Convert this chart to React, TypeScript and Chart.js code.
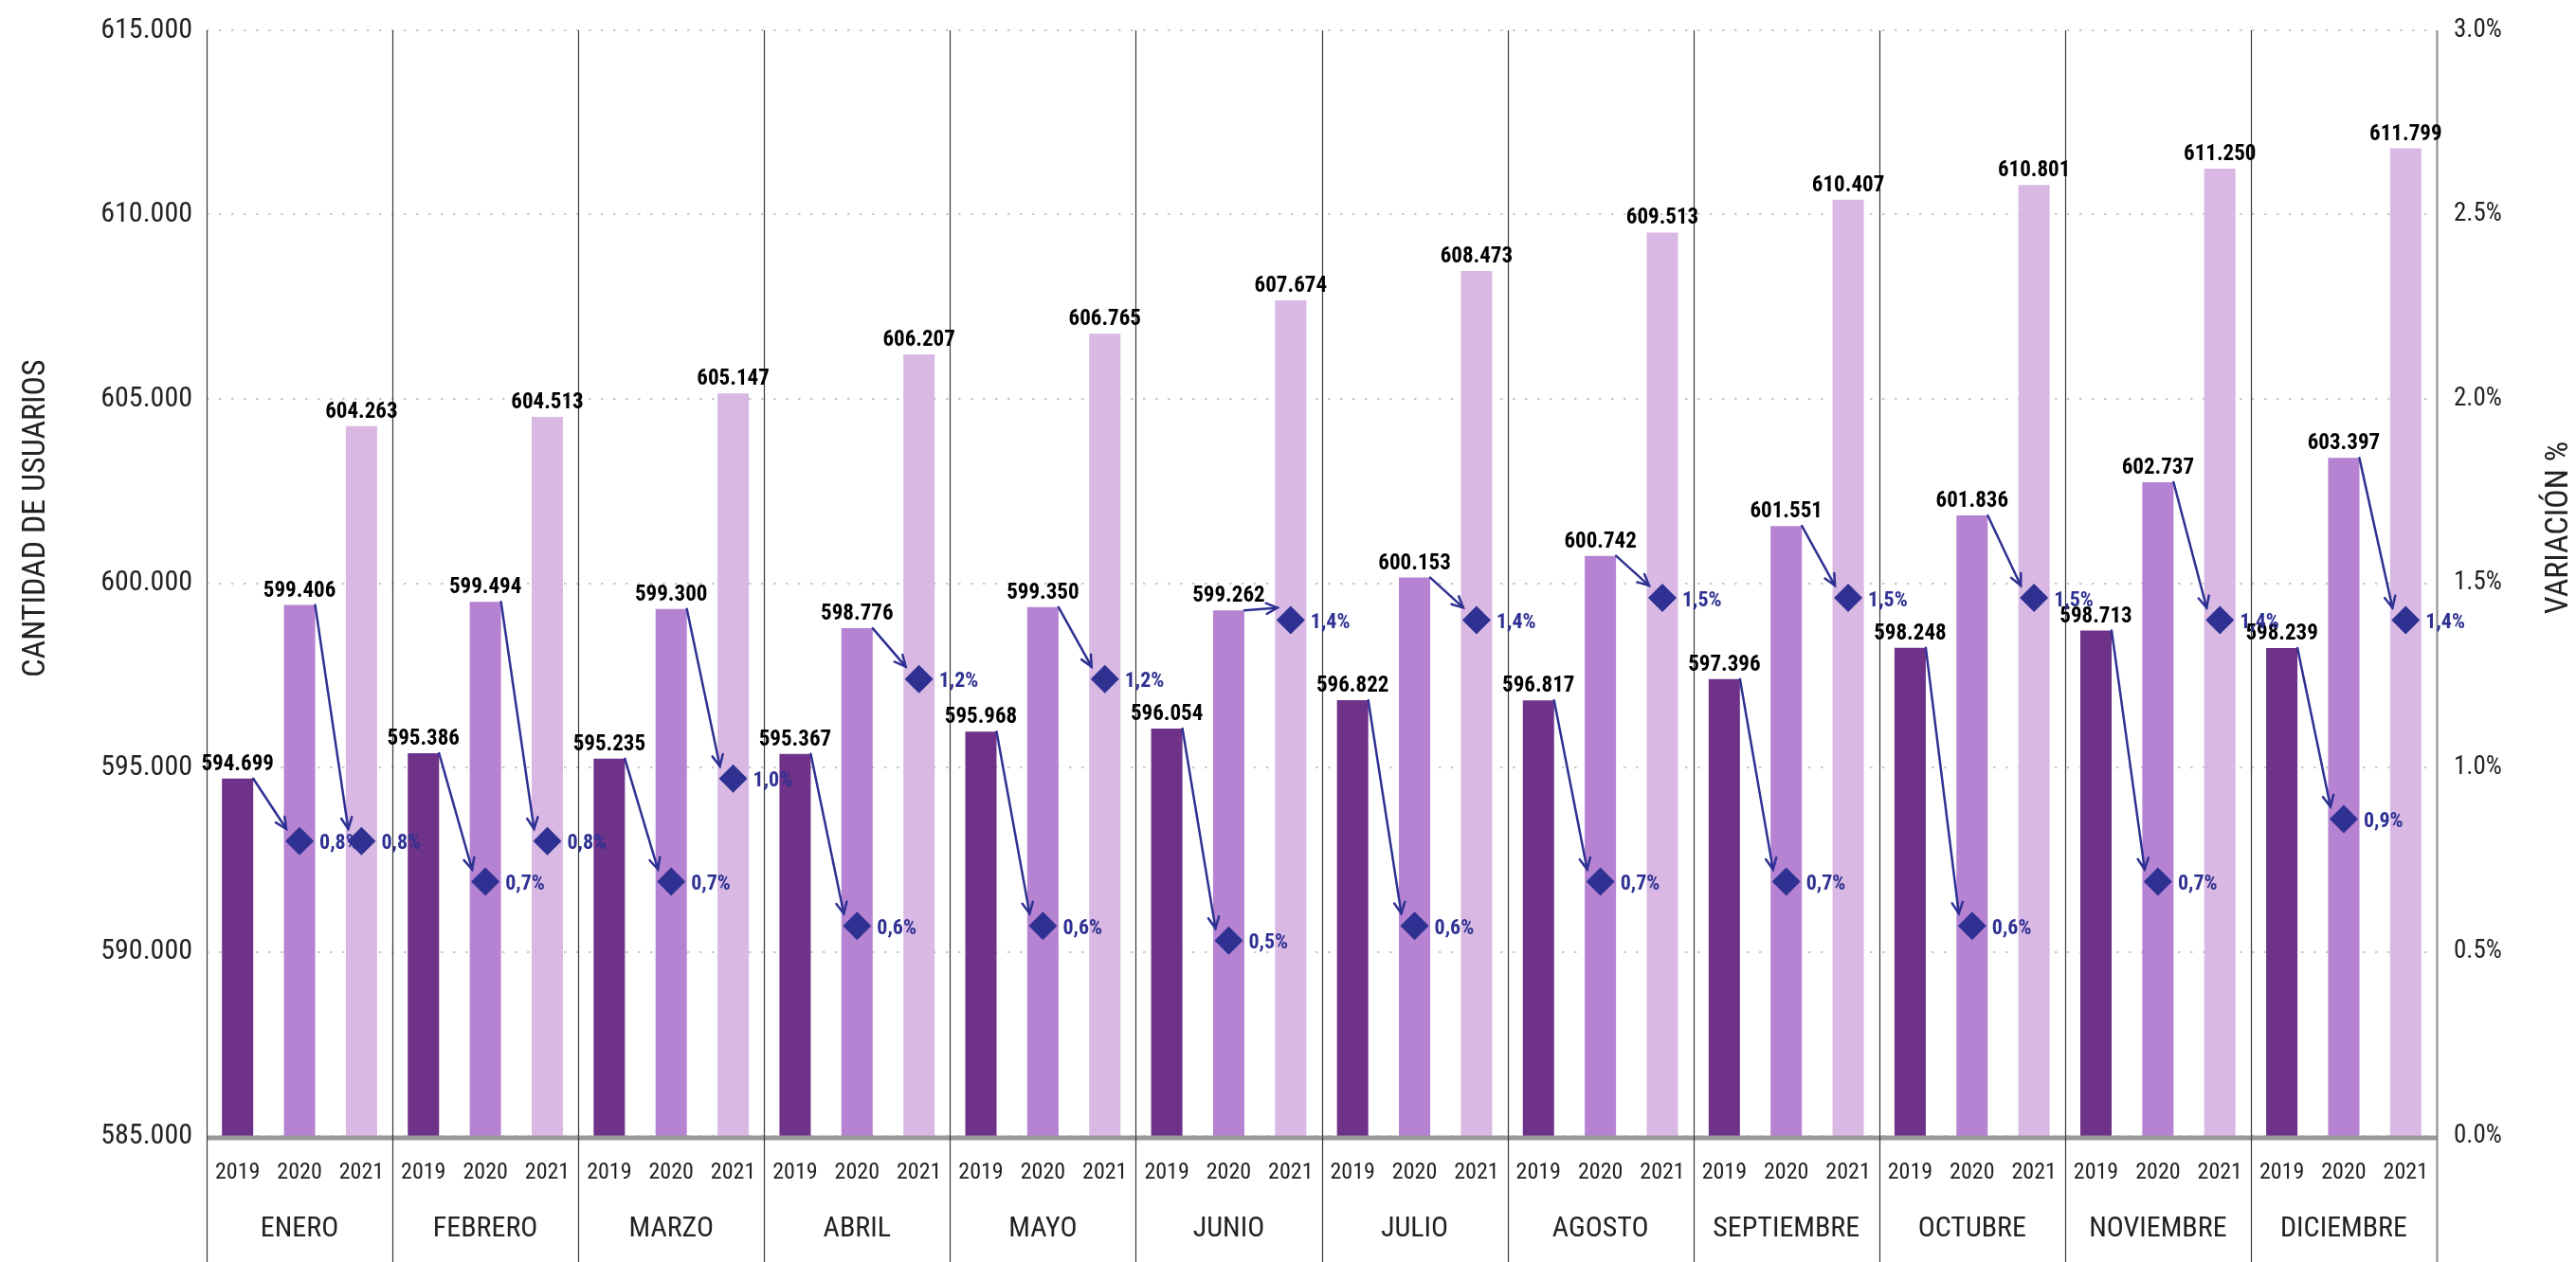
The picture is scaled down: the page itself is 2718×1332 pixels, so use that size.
import React, { useEffect, useRef } from "react";
import { Chart, registerables } from "chart.js";

Chart.register(...registerables);

const MONTHS = ["ENERO", "FEBRERO", "MARZO", "ABRIL", "MAYO", "JUNIO", "JULIO", "AGOSTO", "SEPTIEMBRE", "OCTUBRE", "NOVIEMBRE", "DICIEMBRE"];
const YEARS = ["2019", "2020", "2021"];
const USERS_2019 = [594699, 595386, 595235, 595367, 595968, 596054, 596822, 596817, 597396, 598248, 598713, 598239];
const USERS_2020 = [599406, 599494, 599300, 598776, 599350, 599262, 600153, 600742, 601551, 601836, 602737, 603397];
const USERS_2021 = [604263, 604513, 605147, 606207, 606765, 607674, 608473, 609513, 610407, 610801, 611250, 611799];
const VAR_2020 = [0.80, 0.69, 0.69, 0.57, 0.57, 0.53, 0.57, 0.69, 0.69, 0.57, 0.69, 0.86];
const VAR_2021 = [0.80, 0.80, 0.97, 1.24, 1.24, 1.40, 1.40, 1.46, 1.46, 1.46, 1.40, 1.40];
const YEAR_COLORS = ["#6E3289", "#B583D2", "#D9B9E3"];
const NAVY = "#2E3192";
const FF = "'Roboto Condensed', Roboto, sans-serif";

function fmtThousands(v: number): string {
  return String(Math.round(v)).replace(/\B(?=(\d{3})+(?!\d))/g, ".");
}

function setFont(ctx: CanvasRenderingContext2D, size: number, weight: string) {
  ctx.font = `${weight} ${size}px ${FF}`;
  try {
    (ctx as any).fontStretch = "condensed";
  } catch (e) {}
}

const labels36: string[] = [];
const values36: number[] = [];
const colors36: string[] = [];
const var36: (number | null)[] = [];
const series = [USERS_2019, USERS_2020, USERS_2021];
MONTHS.forEach((m, mi) => {
  YEARS.forEach((y, yi) => {
    labels36.push(m + " " + y);
    values36.push(series[yi][mi]);
    colors36.push(YEAR_COLORS[yi]);
    var36.push(yi === 0 ? null : yi === 1 ? VAR_2020[mi] : VAR_2021[mi]);
  });
});

const overlayPlugin = {
  id: "overlay",
  afterDatasetsDraw(chart: any) {
    const ctx: CanvasRenderingContext2D = chart.ctx;
    const barMeta = chart.getDatasetMeta(0);
    const lineMeta = chart.getDatasetMeta(1);
    const area = chart.chartArea;
    const xs = chart.scales.x;
    const ys = chart.scales.y;
    const y1 = chart.scales.y1;
    ctx.save();

    ctx.strokeStyle = "#999999";
    ctx.lineWidth = 5;
    ctx.beginPath();
    ctx.moveTo(area.left, area.bottom + 2);
    ctx.lineTo(area.right, area.bottom + 2);
    ctx.stroke();

    for (let k = 0; k <= MONTHS.length; k++) {
      const x = Math.round(xs.getPixelForValue(k * 3 - 0.5)) + 0.5;
      ctx.strokeStyle = k === MONTHS.length ? "#888888" : "#3a3a3a";
      ctx.lineWidth = k === MONTHS.length ? 2 : 1.2;
      ctx.beginPath();
      ctx.moveTo(x, area.top);
      ctx.lineTo(x, chart.height);
      ctx.stroke();
    }

    ctx.strokeStyle = NAVY;
    ctx.lineWidth = 2.5;
    ctx.lineCap = "round";
    for (let i = 0; i < var36.length; i++) {
      if (var36[i] === null) continue;
      const bar = barMeta.data[i - 1];
      const pt = lineMeta.data[i];
      const sx = bar.x + bar.width / 2;
      const sy = bar.y;
      const ex = pt.x - 14;
      const ey = pt.y - 13;
      ctx.beginPath();
      ctx.moveTo(sx, sy);
      ctx.lineTo(ex, ey);
      ctx.stroke();
      const ang = Math.atan2(ey - sy, ex - sx);
      const L = 13;
      ctx.beginPath();
      ctx.moveTo(ex - L * Math.cos(ang - 0.45), ey - L * Math.sin(ang - 0.45));
      ctx.lineTo(ex, ey);
      ctx.lineTo(ex - L * Math.cos(ang + 0.45), ey - L * Math.sin(ang + 0.45));
      ctx.stroke();
    }

    ctx.fillStyle = "#000000";
    setFont(ctx, 23, "bold");
    ctx.textAlign = "center";
    ctx.textBaseline = "alphabetic";
    barMeta.data.forEach((bar: any, i: number) => {
      ctx.fillText(fmtThousands(values36[i]), bar.x, bar.y - 9);
    });

    ctx.fillStyle = NAVY;
    setFont(ctx, 22, "bold");
    ctx.textAlign = "left";
    ctx.textBaseline = "middle";
    lineMeta.data.forEach((pt: any, i: number) => {
      const v = var36[i];
      if (v === null) return;
      ctx.fillText(v.toFixed(1).replace(".", ",") + "%", pt.x + 21, pt.y + 3);
    });

    ctx.fillStyle = "#222222";
    setFont(ctx, 30, "normal");
    ctx.textAlign = "right";
    ctx.textBaseline = "middle";
    ys.ticks.forEach((t: any) => {
      ctx.fillText(fmtThousands(t.value), area.left - 15, ys.getPixelForValue(t.value));
    });

    setFont(ctx, 27, "normal");
    ctx.textAlign = "left";
    y1.ticks.forEach((t: any) => {
      ctx.fillText(t.value.toFixed(1) + "%", area.right + 18, y1.getPixelForValue(t.value));
    });

    setFont(ctx, 24, "normal");
    ctx.textAlign = "center";
    for (let i = 0; i < labels36.length; i++) {
      ctx.fillText(YEARS[i % 3], xs.getPixelForValue(i), area.bottom + 39);
    }
    setFont(ctx, 30, "normal");
    MONTHS.forEach((m, mi) => {
      ctx.fillText(m, xs.getPixelForValue(mi * 3 + 1), area.bottom + 98);
    });

    setFont(ctx, 34, "normal");
    ctx.save();
    ctx.translate(38, 547);
    ctx.rotate(-Math.PI / 2);
    ctx.textAlign = "center";
    ctx.fillText("CANTIDAD DE USUARIOS", 0, 0);
    ctx.restore();
    ctx.save();
    ctx.translate(2700, 557);
    ctx.rotate(-Math.PI / 2);
    ctx.textAlign = "center";
    ctx.fillText("VARIACIÓN %", 0, 0);
    ctx.restore();

    ctx.restore();
  },
};

export default function App() {
  const ref = useRef<HTMLCanvasElement | null>(null);
  useEffect(() => {
    document.body.style.margin = "0";
    document.body.style.overflow = "hidden";
    const canvas = ref.current;
    if (!canvas) return;
    const chart = new Chart(canvas, {
      type: "bar",
      data: {
        labels: labels36,
        datasets: [
          {
            type: "bar",
            data: values36,
            backgroundColor: colors36,
            borderWidth: 0,
            barPercentage: 0.505,
            categoryPercentage: 1,
            yAxisID: "y",
            order: 1,
          } as any,
          {
            type: "line",
            data: var36,
            yAxisID: "y1",
            showLine: false,
            pointStyle: "rectRot",
            pointRadius: 15,
            pointHoverRadius: 15,
            pointBackgroundColor: NAVY,
            pointBorderColor: NAVY,
            pointBorderWidth: 0,
            order: 0,
          } as any,
        ],
      },
      options: {
        animation: false,
        responsive: false,
        devicePixelRatio: 1,
        layout: { padding: { top: 32, left: 0, right: 0, bottom: 0 } },
        plugins: { legend: { display: false }, tooltip: { enabled: false } },
        events: [],
        scales: {
          x: {
            display: true,
            ticks: { display: false },
            grid: { display: false, drawTicks: false },
            border: { display: false },
            afterFit: (s: any) => {
              s.height = 133;
            },
          },
          y: {
            position: "left",
            min: 585000,
            max: 615000,
            ticks: { display: false, stepSize: 5000 },
            grid: { color: "#c8c8c8", lineWidth: 2, drawTicks: false },
            border: { display: false, dash: [2.5, 10.5] },
            afterFit: (s: any) => {
              s.width = 218;
            },
          },
          y1: {
            position: "right",
            min: 0,
            max: 3,
            ticks: { display: false, stepSize: 0.5 },
            grid: { display: false, drawTicks: false },
            border: { display: false },
            afterFit: (s: any) => {
              s.width = 147;
            },
          },
        },
      } as any,
      plugins: [overlayPlugin],
    });
    return () => chart.destroy();
  }, []);
  return <canvas ref={ref} width={2718} height={1332} style={{ display: "block" }} />;
}
